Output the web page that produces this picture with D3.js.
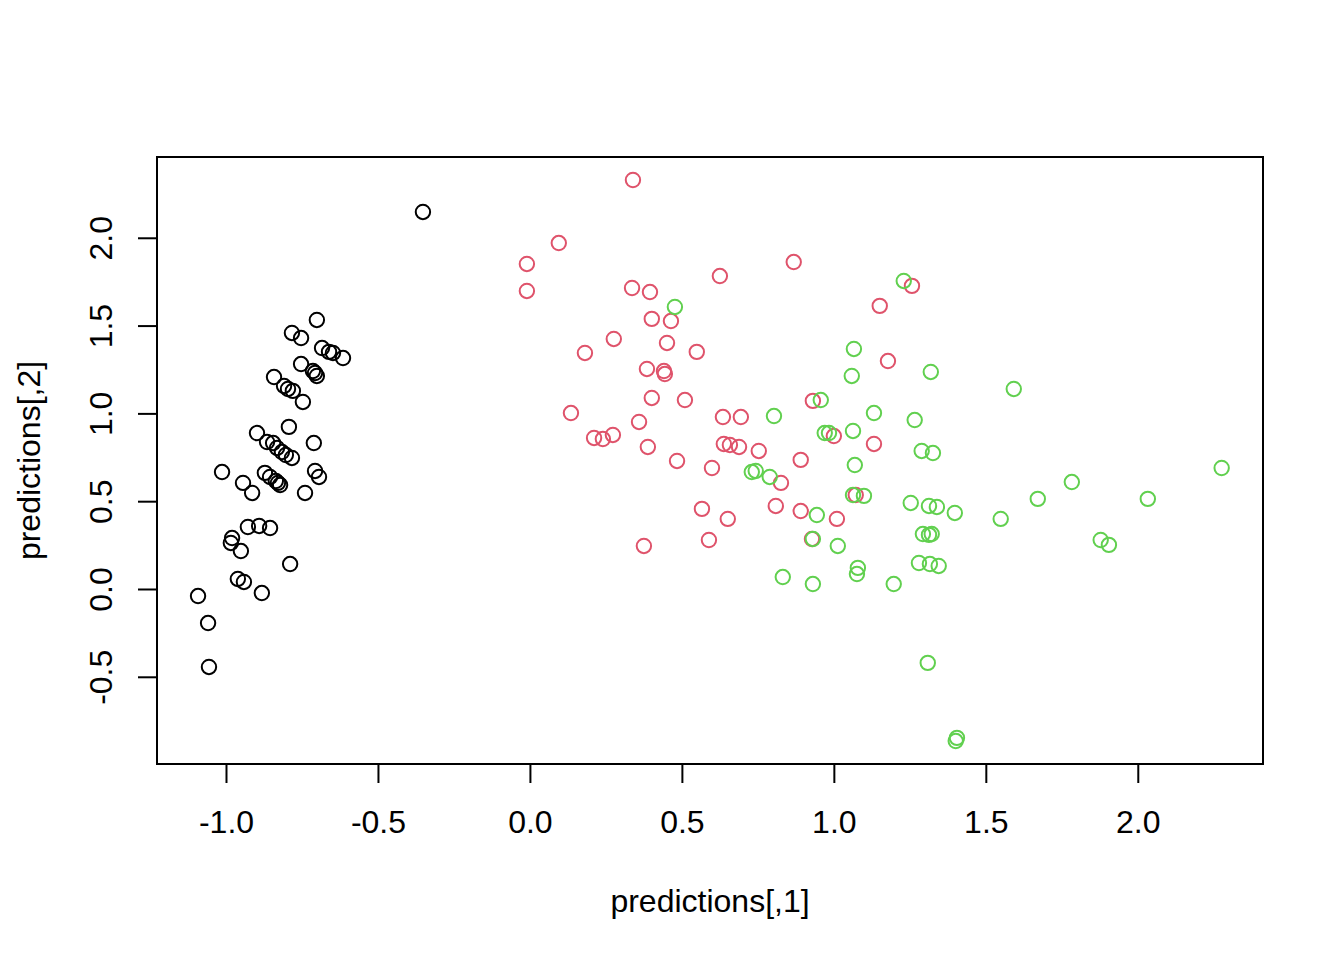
<!DOCTYPE html>
<html>
<head>
<meta charset="utf-8">
<script src="https://cdn.jsdelivr.net/npm/d3@7"></script>
<style>
  html, body { margin: 0; padding: 0; background: #fff; }
  svg text { font-family: "Liberation Sans", Arial, Helvetica, sans-serif; }
</style>
</head>
<body>
<svg id="chart" width="1344" height="960"></svg>
<script>
// ---- data ----
const blackX = [-0.701,-0.783,-0.753,-0.684,-0.661,-0.648,-0.615,-0.753,-0.714,-0.701,
  -0.707,-0.842,-0.809,-0.796,-0.780,-0.747,-0.793,-0.898,-0.865,-0.845,
  -0.832,-0.816,-0.803,-0.783,-0.711,-1.013,-0.944,-0.914,-0.872,-0.855,
  -0.836,-0.822,-0.829,-0.707,-0.694,-0.740,-0.928,-0.891,-0.855,-0.980,
  -0.984,-0.951,-0.789,-0.961,-0.941,-0.882,-1.092,-1.059,-1.056,-0.352];
const blackY = [1.532,1.458,1.429,1.372,1.350,1.344,1.315,1.281,1.241,1.213,
  1.230,1.207,1.156,1.139,1.128,1.065,0.923,0.888,0.837,0.831,
  0.803,0.780,0.763,0.746,0.831,0.666,0.604,0.547,0.661,0.638,
  0.615,0.592,0.604,0.672,0.638,0.547,0.353,0.359,0.347,0.290,
  0.262,0.216,0.142,0.057,0.040,-0.023,-0.040,-0.194,-0.444,2.147];

const redX = [0.339,0.095,-0.010,-0.010,0.625,0.336,0.395,0.401,0.464,0.276,
  0.451,0.549,0.181,0.385,0.441,0.444,0.401,0.510,0.135,0.359,
  0.635,0.694,0.931,0.211,0.240,0.273,0.388,0.638,0.658,0.688,
  0.753,0.484,0.599,0.891,0.826,0.566,0.651,0.809,0.891,0.589,
  0.375,1.000,1.132,1.072,0.928,1.010,0.868,1.257,1.151,1.178];
const redY = [2.329,1.970,1.851,1.697,1.782,1.714,1.691,1.538,1.526,1.424,
  1.401,1.350,1.344,1.253,1.241,1.224,1.088,1.076,1.002,0.951,
  0.979,0.979,1.071,0.860,0.854,0.877,0.809,0.826,0.820,0.809,
  0.786,0.729,0.689,0.735,0.604,0.456,0.399,0.473,0.444,0.279,
  0.245,0.871,0.826,0.535,0.285,0.399,1.862,1.726,1.612,1.298];

const greenX = [0.477,1.230,1.066,1.319,1.059,0.957,0.803,1.132,1.266,0.970,
  0.984,1.063,1.289,1.326,1.069,0.789,0.730,0.743,1.063,1.099,
  1.253,1.313,1.339,1.398,0.944,0.931,1.013,1.293,1.313,1.322,
  1.280,1.316,1.345,1.079,1.076,0.832,0.931,1.197,1.592,2.276,
  1.783,1.671,2.033,1.549,1.878,1.905,1.309,1.405,1.401];
const greenY = [1.606,1.754,1.367,1.236,1.213,1.076,0.985,1.002,0.962,0.888,
  0.888,0.900,0.786,0.774,0.706,0.638,0.666,0.672,0.535,0.530,
  0.490,0.473,0.467,0.433,0.421,0.285,0.245,0.313,0.308,0.313,
  0.148,0.142,0.131,0.120,0.085,0.068,0.028,0.028,1.139,0.689,
  0.609,0.513,0.513,0.399,0.279,0.251,-0.421,-0.848,-0.866];

const groupNames = ["1", "2", "3"];
const groupColors = ["#000000", "#DF536B", "#61D04F"];
const xTickValues = [-1.0, -0.5, 0.0, 0.5, 1.0, 1.5, 2.0];
const yTickValues = [-0.5, 0.0, 0.5, 1.0, 1.5, 2.0];
const xTitle = "predictions[,1]";
const yTitle = "predictions[,2]";

// ---- layout ----
const plotLeft = 157, plotRight = 1263, plotTop = 157, plotBottom = 764;
const fontSize = 32;

const svg = d3.select("#chart");

const x = d3.scaleLinear().domain([-1.227, 2.412]).range([plotLeft, plotRight]);
const y = d3.scaleLinear().domain([-0.9966, 2.460]).range([plotBottom, plotTop]);

const groups = [
  { name: groupNames[0], color: groupColors[0], xs: blackX, ys: blackY },
  { name: groupNames[1], color: groupColors[1], xs: redX, ys: redY },
  { name: groupNames[2], color: groupColors[2], xs: greenX, ys: greenY }
];
const points = [];
groups.forEach(g => g.xs.forEach((v, i) => points.push({ x: v, y: g.ys[i], color: g.color })));

// points
svg.append("g").selectAll("circle").data(points).join("circle")
  .attr("cx", d => x(d.x))
  .attr("cy", d => y(d.y))
  .attr("r", 7.2)
  .attr("fill", "none")
  .attr("stroke", d => d.color)
  .attr("stroke-width", 2);

// box
svg.append("rect")
  .attr("x", plotLeft).attr("y", plotTop)
  .attr("width", plotRight - plotLeft).attr("height", plotBottom - plotTop)
  .attr("fill", "none").attr("stroke", "#000").attr("stroke-width", 2);

// x axis
const xAxis = svg.append("g")
  .attr("transform", `translate(0,${plotBottom})`)
  .call(d3.axisBottom(x).tickValues(xTickValues).tickFormat(d3.format(".1f")).tickSize(19).tickSizeOuter(0));
xAxis.select(".domain").attr("d", `M${x(xTickValues[0])},0H${x(xTickValues[xTickValues.length-1])}`)
  .attr("stroke-width", 2);
xAxis.selectAll(".tick line").attr("stroke-width", 2);
xAxis.selectAll(".tick text")
  .attr("y", 69).attr("dy", null)
  .attr("font-size", fontSize).attr("fill", "#000")
  .text(d => d3.format(".1f")(d).replace("−", "-"));

// y axis
const yAxis = svg.append("g")
  .attr("transform", `translate(${plotLeft},0)`)
  .call(d3.axisLeft(y).tickValues(yTickValues).tickFormat(d3.format(".1f")).tickSize(19).tickSizeOuter(0));
yAxis.select(".domain").attr("d", `M0,${y(yTickValues[0])}V${y(yTickValues[yTickValues.length-1])}`)
  .attr("stroke-width", 2);
yAxis.selectAll(".tick line").attr("stroke-width", 2);
yAxis.selectAll(".tick text")
  .attr("x", 0).attr("y", 0).attr("dy", null)
  .attr("text-anchor", "middle")
  .attr("transform", "translate(-45,0) rotate(-90)")
  .attr("font-size", fontSize).attr("fill", "#000")
  .text(d => d3.format(".1f")(d).replace("−", "-"));

// titles
svg.append("text")
  .attr("x", (plotLeft + plotRight) / 2).attr("y", 912)
  .attr("text-anchor", "middle").attr("font-size", fontSize)
  .text(xTitle);
svg.append("text")
  .attr("transform", `translate(40,${(plotTop + plotBottom) / 2}) rotate(-90)`)
  .attr("text-anchor", "middle").attr("font-size", fontSize)
  .text(yTitle);
</script>
</body>
</html>
